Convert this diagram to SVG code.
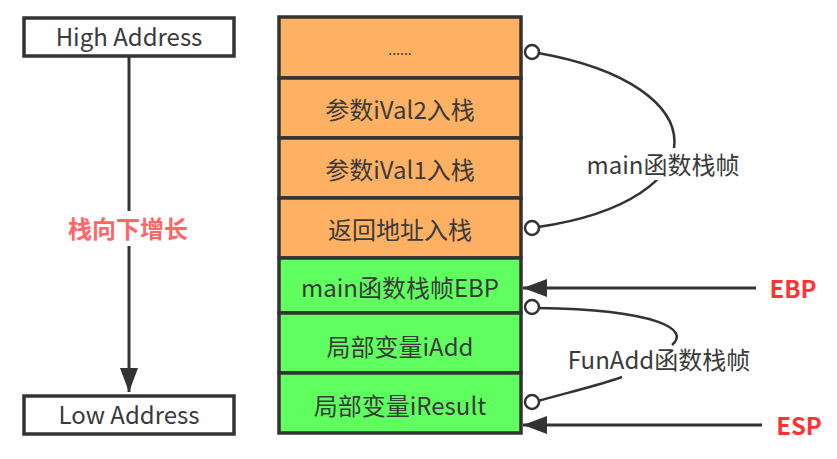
<svg xmlns="http://www.w3.org/2000/svg" width="837" height="459" viewBox="0 0 837 459">
<style>
text{font-family:"Noto Sans CJK SC","Noto Sans",sans-serif;font-size:24px;fill:#3a3a3a;text-anchor:middle;dominant-baseline:central}
.box{fill:#fff;stroke:#333;stroke-width:3.5}
.or{fill:#FFB163;stroke:#333;stroke-width:3.5}
.gr{fill:#5FFF5F;stroke:#333;stroke-width:3.5}
.ln{fill:none;stroke:#333;stroke-width:3}
.cv{fill:none;stroke:#333;stroke-width:2.5}
.dot{fill:#fff;stroke:#333;stroke-width:2.5}
.red{font-weight:bold;fill:#FF3333;font-size:24px}
.pink{font-weight:bold;fill:#FF6666;font-size:24px}
</style>
<defs>
<marker id="ah" markerWidth="8" markerHeight="6" refX="8" refY="3" orient="auto" markerUnits="strokeWidth">
<path d="M0,0 L8,3 L0,6 Z" fill="#333"/>
</marker>
</defs>
<g id="connectors">
<line class="ln" x1="129" y1="57" x2="129" y2="211"/>
<line class="ln" x1="129" y1="246" x2="129" y2="392" marker-end="url(#ah)"/>
<line class="ln" x1="756" y1="288" x2="523" y2="288" marker-end="url(#ah)"/>
<line class="ln" x1="762" y1="425" x2="523" y2="425" marker-end="url(#ah)"/>
<path class="cv" d="M538,53 C720,85 720,200 538,227"/>
<path class="cv" d="M538,308 C660,310 690,330 672,345"/>
<path class="cv" d="M622,377 C600,385 570,392 538,401"/>
<circle class="dot" cx="532" cy="52" r="7"/>
<circle class="dot" cx="532" cy="228" r="7"/>
<circle class="dot" cx="532" cy="307" r="7"/>
<circle class="dot" cx="532" cy="402" r="7"/>
</g>
<g id="high">
<rect class="box" x="24" y="18" width="210" height="38"/>
<text x="129" y="35.5">High Address</text>
</g>
<g id="low">
<rect class="box" x="24" y="396" width="210" height="38"/>
<text x="129" y="413">Low Address</text>
</g>
<g id="grow-label"><text class="pink" x="128" y="227">栈向下增长</text></g>
<g id="row1"><rect class="or" x="279" y="17" width="242" height="61"/><text x="400" y="49" style="font-size:14px">......</text></g>
<g id="row2"><rect class="or" x="279" y="78" width="242" height="60"/><text x="400" y="108">参数iVal2入栈</text></g>
<g id="row3"><rect class="or" x="279" y="138" width="242" height="60"/><text x="400" y="168">参数iVal1入栈</text></g>
<g id="row4"><rect class="or" x="279" y="198" width="242" height="60"/><text x="400" y="228">返回地址入栈</text></g>
<g id="row5"><rect class="gr" x="279" y="258" width="242" height="55"/><text x="400" y="286">main函数栈帧EBP</text></g>
<g id="row6"><rect class="gr" x="279" y="313" width="242" height="60"/><text x="400" y="345">局部变量iAdd</text></g>
<g id="row7"><rect class="gr" x="279" y="373" width="242" height="60"/><text x="400" y="404">局部变量iResult</text></g>
<g id="main-frame-label"><rect x="584" y="148" width="158" height="32" fill="#fff"/><text x="663" y="163">main函数栈帧</text></g>
<g id="funadd-frame-label"><text x="659" y="358">FunAdd函数栈帧</text></g>
<g id="ebp-label"><text class="red" x="793" y="287">EBP</text></g>
<g id="esp-label"><text class="red" x="799" y="424">ESP</text></g>
</svg>
